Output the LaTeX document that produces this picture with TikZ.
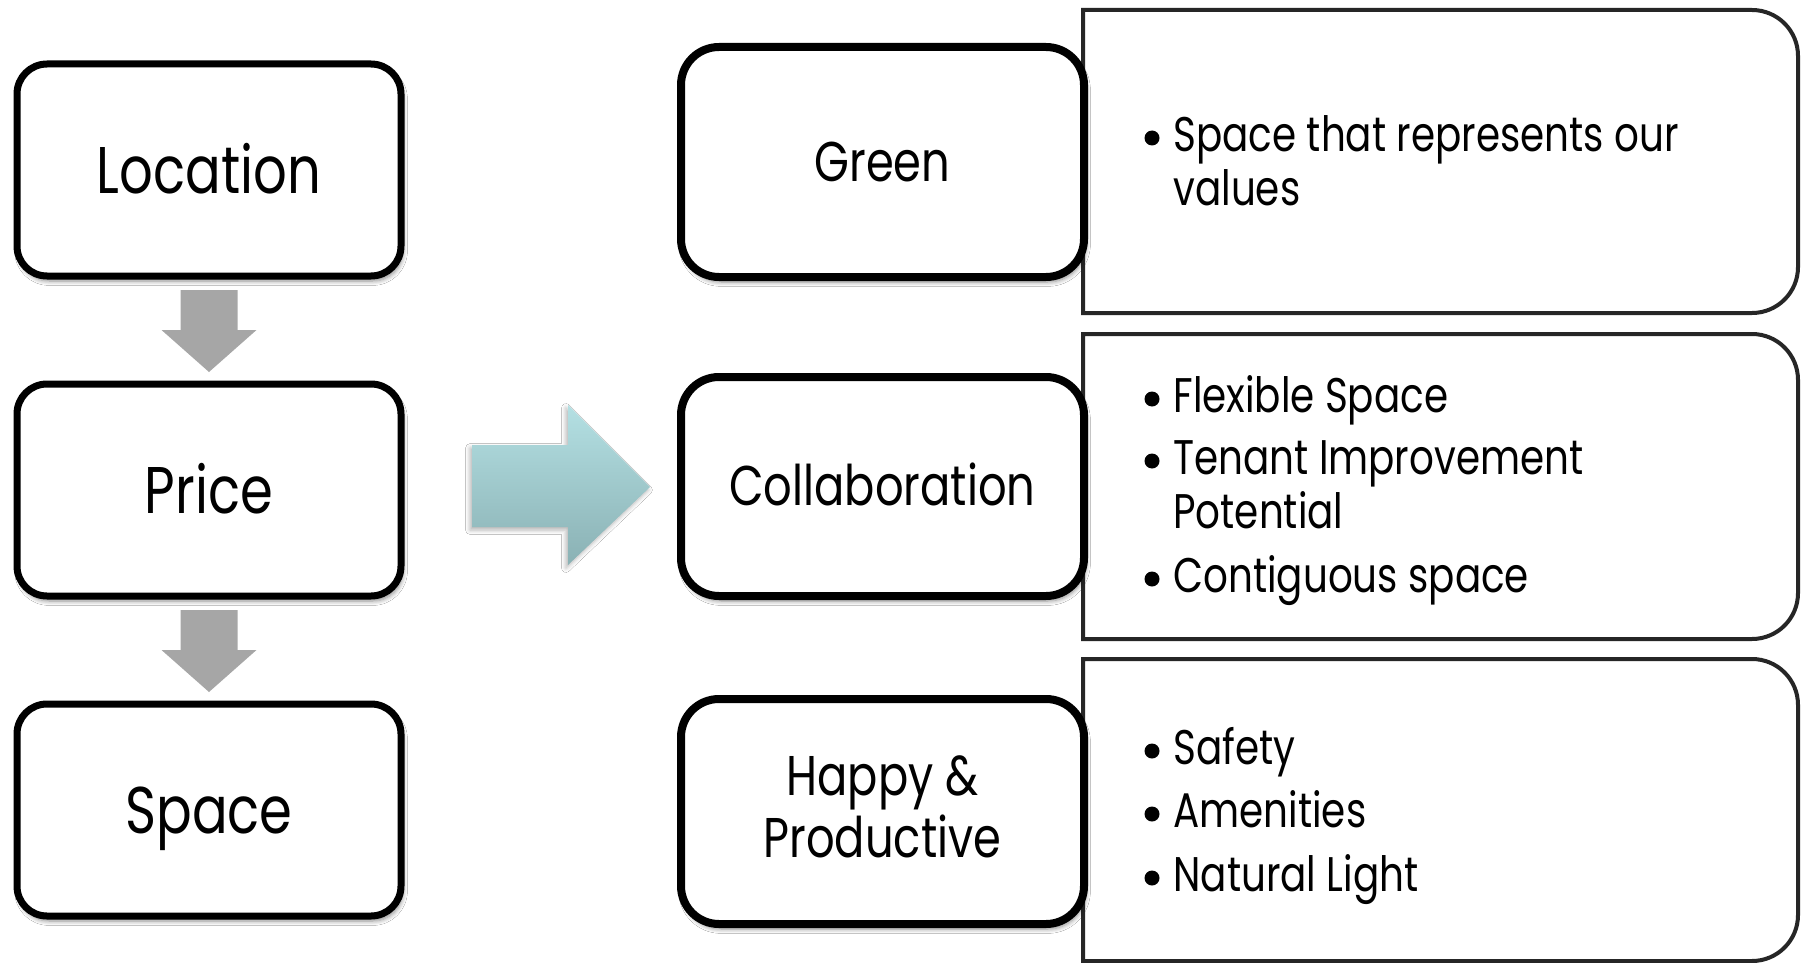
\documentclass[tikz,border=0pt]{standalone}
\usepackage{fontspec}
\setmainfont{Poppins}[FakeStretch=0.8]
\usetikzlibrary{shadows.blur}
\definecolor{arrgray}{HTML}{A6A6A6}
\definecolor{tealtop}{HTML}{B4E0E3}
\definecolor{tealbot}{HTML}{8AB1B4}
\newcommand\rboxpath[1]{%
  \draw[rline] (#1.south west) -- (#1.north west)
    -- ([xshift=-23pt]#1.north east)
    .. controls ([xshift=-10.3pt]#1.north east) and ([yshift=-10.3pt]#1.north east) .. ([yshift=-23pt]#1.north east)
    -- ([yshift=23pt]#1.south east)
    .. controls ([yshift=10.3pt]#1.south east) and ([xshift=-10.3pt]#1.south east) .. ([xshift=-23pt]#1.south east)
    -- cycle;}
\begin{document}
\begin{tikzpicture}[x=0.5pt,y=-0.5pt,
  shad/.style={blur shadow={shadow xshift=1pt, shadow yshift=-2.5pt, shadow blur steps=6, shadow opacity=45}},
  lbox/.style={draw=black, line width=3.5pt, rounded corners=15pt, fill=white,
    minimum width=192pt, minimum height=106pt, inner sep=0pt, shad,
    text height=25pt, text depth=2pt,
    font=\fontsize{33}{40}\selectfont},
  mbox/.style={draw=black, line width=4pt, rounded corners=19pt, fill=white,
    minimum width=201.5pt, inner sep=0pt, shad, align=center,
    font=\fontsize{28}{31}\selectfont},
  mone/.style={text height=21pt, text depth=2pt},
  mtext/.style={inner sep=0pt, align=center, font=\fontsize{28}{31}\selectfont},
  rframe/.style={inner sep=0pt, outer sep=0pt, draw=none},
  rline/.style={draw=black!85, line width=2pt, fill=white},
  rtext/.style={anchor=base west, inner sep=0pt, font=\fontsize{24.3}{28}\selectfont},
  bul/.style={circle, fill=black, minimum size=7.5pt, inner sep=0pt},
  garrow/.style={fill=arrgray, draw=none}]
\useasboundingbox (0,0) rectangle (1809,963);
\fill[white] (0,0) rectangle (1809,963);

% left column
\node[lbox] (loc) at (209,170) {Location};
\node[lbox] (price) at (209,490) {Price};
\node[lbox] (space) at (209,810) {Space};

% gray down arrows
\fill[garrow] (180.5,290) -- (237.5,290) -- (237.5,330) -- (256.5,330) -- (209,372) -- (161.5,330) -- (180.5,330) -- cycle;
\fill[garrow] (180.5,610) -- (237.5,610) -- (237.5,650) -- (256.5,650) -- (209,692) -- (161.5,650) -- (180.5,650) -- cycle;

% teal arrow
\path[top color=tealtop, bottom color=tealbot, blur shadow={shadow xshift=-1pt, shadow yshift=-1.5pt, shadow blur steps=4, shadow opacity=30}]
  (472,445) -- (568,445) -- (568,405) -- (650,487) -- (568,565) -- (568,527) -- (472,527) -- cycle;

% right boxes
\node[rframe, minimum width=357.5pt, minimum height=151.5pt] (r1) at (1440.5,161.5) {};
\node[rframe, minimum width=357.5pt, minimum height=152.5pt] (r2) at (1440.5,486.5) {};
\node[rframe, minimum width=357.5pt, minimum height=151pt] (r3) at (1440.5,810) {};
\rboxpath{r1}
\rboxpath{r2}
\rboxpath{r3}

% middle column
\node[mbox, mone, minimum height=115pt] (green) at (882.5,162) {Green};
\node[mbox, mone, minimum height=109.5pt] (collab) at (882.5,486.5) {Collaboration};
\node[mbox, minimum height=112.5pt] (happy) at (882.5,811.5) {};
\node[mtext] (happyt) at ([yshift=2.5pt]happy.center) {Happy \&\\Productive};

% right texts
\node[bul] (b1) at (1152,138) {};
\node[rtext] (t1a) at (1173,151) {Space that represents our};
\node[rtext] (t1b) at (1173,205) {values};

\node[bul] (b2) at (1152,399) {};
\node[rtext] (t2a) at (1173,412) {Flexible Space};
\node[bul] (b3) at (1152,461) {};
\node[rtext] (t2b) at (1173,474) {Tenant Improvement};
\node[rtext] (t2c) at (1173,528) {Potential};
\node[bul] (b4) at (1152,579) {};
\node[rtext] (t2d) at (1173,592) {Contiguous space};

\node[bul] (b5) at (1152,751) {};
\node[rtext] (t3a) at (1173,764) {Safety};
\node[bul] (b6) at (1152,814) {};
\node[rtext] (t3b) at (1173,827) {Amenities};
\node[bul] (b7) at (1152,878) {};
\node[rtext] (t3c) at (1173,891) {Natural Light};
\end{tikzpicture}
\end{document}
